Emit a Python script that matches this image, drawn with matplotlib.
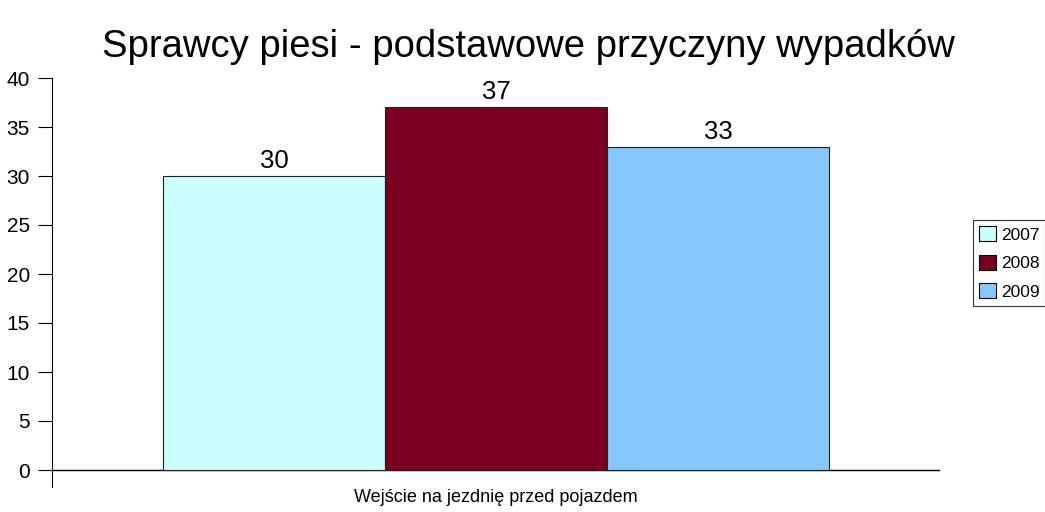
import matplotlib
matplotlib.use("Agg")
import matplotlib.pyplot as plt
from matplotlib.patches import Patch

plt.rcParams['font.family'] = ['Liberation Sans', 'DejaVu Sans']

category = "Wejście na jezdnię przed pojazdem"
years = ["2007", "2008", "2009"]
values = [30, 37, 33]
colors = ["#CCFFFF", "#7A0022", "#85C8FC"]
yticks = [0, 5, 10, 15, 20, 25, 30, 35, 40]

fig = plt.figure(figsize=(10.45, 5.12), dpi=100)
ax = fig.add_axes([52/1045, 1-487/512, (940-52)/1045, (487-78)/512])

width = 0.25
centers = [0.25, 0.5, 0.75]
for c, v, col in zip(centers, values, colors):
    ax.bar(c, v, width=width, color=col, edgecolor="#222222", linewidth=0.8)
    ax.text(c, v + 0.3, str(v), ha="center", va="bottom", fontsize=18.5)

ymin = -40 * (487-470) / (470-78)
ax.set_xlim(0, 1)
ax.set_ylim(ymin, 40)
ax.set_yticks(yticks)
ax.tick_params(axis="y", direction="out", length=10, width=0.8, labelsize=15, pad=6)
ax.set_xticks([])
for s in ["top", "right", "bottom"]:
    ax.spines[s].set_visible(False)
ax.spines["left"].set_linewidth(0.8)
ax.axhline(0, color="black", linewidth=1.0, zorder=0)

fig.text(496/1045, 1-497/512, category, ha="center", va="center", fontsize=13)
fig.text(528/1045, 1-57/512, "Sprawcy piesi - podstawowe przyczyny wypadków",
         ha="center", va="baseline", fontsize=27.5)

handles = [Patch(facecolor=c, edgecolor="black", linewidth=0.8) for c in colors]
leg = fig.legend(handles, years, loc="upper left", bbox_to_anchor=(973/1045, 1-220/512),
                 frameon=True, fancybox=False, fontsize=12.5, handlelength=0.95,
                 handleheight=0.95, handletextpad=0.3, labelspacing=0.7,
                 borderpad=0.35, borderaxespad=0)
leg.get_frame().set_edgecolor("black")
leg.get_frame().set_linewidth(0.8)

fig.savefig("out.png", dpi=100)
